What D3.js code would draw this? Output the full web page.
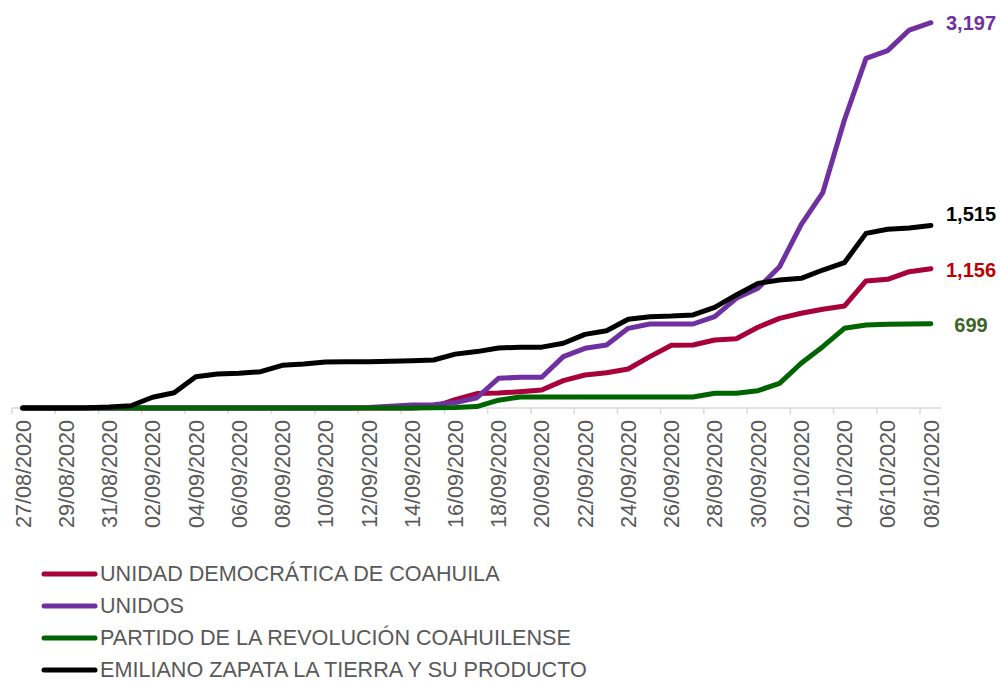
<!DOCTYPE html>
<html>
<head>
<meta charset="utf-8">
<script src="https://cdnjs.cloudflare.com/ajax/libs/d3/7.8.5/d3.min.js"></script>
<style>
  html, body { margin: 0; padding: 0; background: #ffffff; }
  svg { display: block; }
  text { font-family: "Liberation Sans", Arial, sans-serif; }
</style>
</head>
<body>
<div id="chart"></div>
<script>
// ---------------- DATA ----------------
const dates = [
  "27/08/2020","28/08/2020","29/08/2020","30/08/2020","31/08/2020",
  "01/09/2020","02/09/2020","03/09/2020","04/09/2020","05/09/2020",
  "06/09/2020","07/09/2020","08/09/2020","09/09/2020","10/09/2020",
  "11/09/2020","12/09/2020","13/09/2020","14/09/2020","15/09/2020",
  "16/09/2020","17/09/2020","18/09/2020","19/09/2020","20/09/2020",
  "21/09/2020","22/09/2020","23/09/2020","24/09/2020","25/09/2020",
  "26/09/2020","27/09/2020","28/09/2020","29/09/2020","30/09/2020",
  "01/10/2020","02/10/2020","03/10/2020","04/10/2020","05/10/2020",
  "06/10/2020","07/10/2020","08/10/2020"
];
const tickLabels = [
  "27/08/2020","29/08/2020","31/08/2020","02/09/2020","04/09/2020",
  "06/09/2020","08/09/2020","10/09/2020","12/09/2020","14/09/2020",
  "16/09/2020","18/09/2020","20/09/2020","22/09/2020","24/09/2020",
  "26/09/2020","28/09/2020","30/09/2020","02/10/2020","04/10/2020",
  "06/10/2020","08/10/2020"
];
const seriesNames = [
  "UNIDAD DEMOCRÁTICA DE COAHUILA",
  "UNIDOS",
  "PARTIDO DE LA REVOLUCIÓN COAHUILENSE",
  "EMILIANO ZAPATA LA TIERRA Y SU PRODUCTO"
];
const unidadDemocratica = [
  0,0,0,0,0, 0,0,0,0,0, 0,0,0,0,0, 0,0,0,0,10,
  70,120,124,135,149, 227,274,293,324,426, 520,523,564,575,670,
  744,786,819,846,1054, 1068,1131,1156
];
const unidos = [
  0,0,0,0,0, 0,0,0,0,0, 0,0,0,0,0, 0,5,15,25,28,
  45,85,246,255,255, 426,495,523,661,697, 697,697,758,910,993,
  1172,1522,1787,2390,2901, 2965,3136,3197
];
const revolucionCoahuilense = [
  0,0,0,0,0, 0,0,0,0,0, 0,0,0,0,0, 0,0,0,0,2,
  5,12,65,92,92, 92,92,92,92,92, 92,92,122,122,144,
  205,371,509,661,689, 694,696,699
];
const emilianoZapata = [
  0,0,0,2,8, 19,89,127,260,282, 288,301,354,365,382, 384,384,387,392,398,
  447,468,498,504,505, 537,611,641,736,758, 763,772,835,938,1034,
  1062,1076,1145,1206,1449, 1483,1493,1515
];
const endLabels = ["1,156", "3,197", "699", "1,515"];

// ---------------- STYLE ----------------
const W = 1000, H = 682;
const lineColors  = ["#A8003B", "#7030A0", "#006400", "#000000"];
const labelColors = ["#C00000", "#7030A0", "#3B6428", "#000000"];
const labelDy     = [1, 0, 1, -11];

const svg = d3.select("#chart").append("svg")
  .attr("width", W).attr("height", H)
  .style("background", "#ffffff");

const x = d3.scaleBand().domain(dates).range([12, 941.7]).paddingInner(0).paddingOuter(0);
const bw = x.bandwidth();
const cx = d => x(d) + bw / 2;
const y = d3.scaleLinear().domain([0, 3200]).range([408, 22.35]);

// axis line + ticks
const axisG = svg.append("g");
axisG.append("line")
  .attr("x1", x.range()[0]).attr("x2", x.range()[1])
  .attr("y1", y(0)).attr("y2", y(0))
  .attr("stroke", "#d9d9d9").attr("stroke-width", 1.5);
axisG.selectAll("line.tk").data(tickLabels).enter().append("line")
  .attr("class", "tk")
  .attr("x1", d => x(d)).attr("x2", d => x(d))
  .attr("y1", y(0)).attr("y2", y(0) + 6)
  .attr("stroke", "#d9d9d9").attr("stroke-width", 1.5);

// tick labels via d3 axis
const labAxis = d3.axisBottom(x).tickValues(tickLabels).tickSize(0).tickSizeOuter(0);
const lg = svg.append("g").attr("transform", `translate(0,${y(0)})`).call(labAxis);
lg.select(".domain").remove();
lg.selectAll("text")
  .attr("transform", "rotate(-90)")
  .attr("x", -12).attr("y", 0).attr("dy", "0.36em")
  .attr("text-anchor", "end")
  .attr("fill", "#595959")
  .style("font-size", "21.6px")
  .style("font-family", "'Liberation Sans', Arial, sans-serif");

// lines
const allSeries = [unidadDemocratica, unidos, revolucionCoahuilense, emilianoZapata];
const line = d3.line().x((d, i) => cx(dates[i])).y(d => y(d));
allSeries.forEach((s, k) => {
  svg.append("path")
    .datum(s)
    .attr("d", line)
    .attr("fill", "none")
    .attr("stroke", lineColors[k])
    .attr("stroke-width", 5)
    .attr("stroke-linecap", "round")
    .attr("stroke-linejoin", "round");
});

// end labels
allSeries.forEach((s, k) => {
  const last = s.length - 1;
  svg.append("text")
    .attr("x", 971)
    .attr("y", y(s[last]) + labelDy[k])
    .attr("dy", "0.35em")
    .attr("text-anchor", "middle")
    .attr("fill", labelColors[k])
    .style("font-size", "20px")
    .style("font-weight", "bold")
    .text(endLabels[k]);
});

// legend
const legend = svg.append("g");
seriesNames.forEach((name, k) => {
  const ly = 574 + k * 32;
  legend.append("line")
    .attr("x1", 44).attr("x2", 95)
    .attr("y1", ly).attr("y2", ly)
    .attr("stroke", lineColors[k])
    .attr("stroke-width", 5)
    .attr("stroke-linecap", "round");
  legend.append("text")
    .attr("x", 100).attr("y", ly)
    .attr("dy", "0.34em")
    .attr("fill", "#595959")
    .style("font-size", "21.6px")
    .text(name);
});
</script>
</body>
</html>
